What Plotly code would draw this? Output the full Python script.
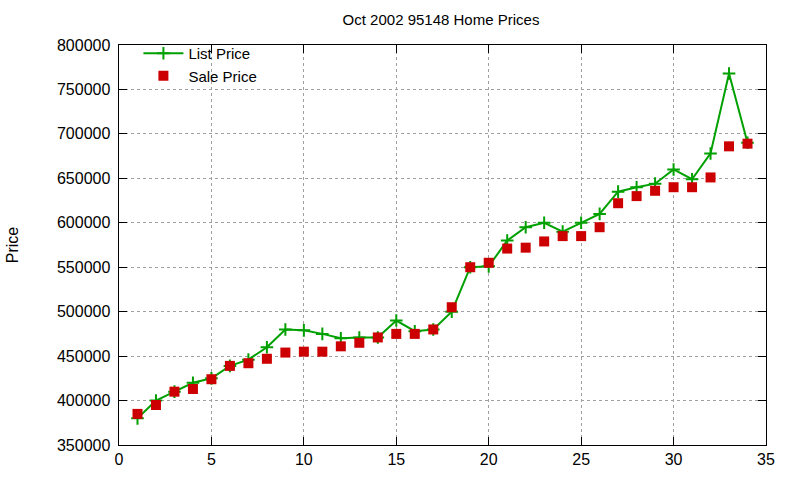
import plotly.graph_objects as go

months = list(range(1, 35))
list_price = [380000, 400000, 410000, 420000, 425000, 439000, 446000, 460000, 480000, 479000,
              475000, 470000, 471000, 471000, 490000, 478000, 480000, 500000, 550000, 551000,
              580000, 595000, 600000, 590000, 600000, 610000, 635000, 640000, 644000, 660000,
              649000, 678000, 768000, 690000]
sale_price = [385000, 395000, 410000, 413000, 424000, 439000, 442000, 447000, 454000, 455000,
              455000, 461000, 465000, 471000, 475000, 475000, 480000, 505000, 550000, 555000,
              571000, 572000, 579000, 585000, 585000, 595000, 622000, 630000, 636000, 640000,
              640000, 651000, 686000, 689000]

font = "Liberation Sans, Arial, sans-serif"
green = "#00a000"
red = "#cc0000"

fig = go.Figure()
fig.add_trace(go.Scatter(
    x=months, y=list_price, name="List Price", mode="lines+markers",
    line=dict(color=green, width=2),
    marker=dict(symbol="cross-thin", size=9, color=green, line=dict(color=green, width=2)),
))
fig.add_trace(go.Scatter(
    x=months, y=sale_price, name="Sale Price", mode="markers",
    marker=dict(symbol="square", size=10, color=red),
))

axis_common = dict(
    showline=True, linecolor="black", linewidth=1, mirror="ticks",
    ticks="inside", ticklen=8, tickcolor="black",
    showgrid=True, gridcolor="#a0a0a0", griddash="dot", gridwidth=1,
    zeroline=False, tickfont=dict(family=font, size=16, color="black"),
)

fig.update_layout(
    width=800, height=480,
    margin=dict(l=119, r=34, t=45, b=31),
    paper_bgcolor="white", plot_bgcolor="white",
    title=dict(text="Oct 2002 95148 Home Prices", x=441 / 800, xanchor="center",
               y=1 - 20 / 480, yanchor="middle",
               font=dict(family=font, size=15, color="black")),
    xaxis=dict(range=[0, 35], dtick=5, tick0=0, **axis_common),
    yaxis=dict(range=[350000, 800000], dtick=50000, tick0=350000, tickformat="d",
               ticksuffix="\u00a0",
               title=dict(text="Price", standoff=34, font=dict(family=font, size=16, color="black")),
               **axis_common),
    legend=dict(x=0.03, y=1.02, xanchor="left", yanchor="top",
                bgcolor="rgba(0,0,0,0)", font=dict(family=font, size=15, color="black"),
                tracegroupgap=0, itemwidth=40),
    showlegend=True,
)

fig.write_html("out.html")
